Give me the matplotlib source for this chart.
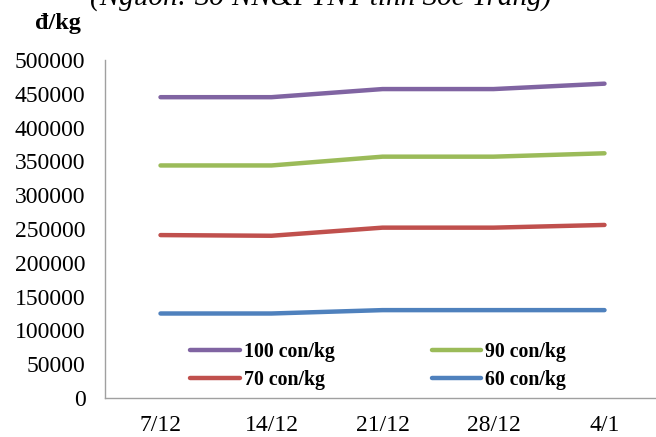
import matplotlib
matplotlib.use('Agg')
from matplotlib import pyplot as plt

# data
dates = ['7/12', '14/12', '21/12', '28/12', '4/1']
price_100 = [445000, 445000, 457000, 457000, 465000]
price_90 = [344000, 344000, 357000, 357000, 362000]
price_70 = [241000, 240000, 252000, 252000, 256000]
price_60 = [125000, 125000, 130000, 130000, 130000]

SERIES = [
    ('100 con/kg', price_100, '#8064A2'),
    ('70 con/kg', price_70, '#C0504D'),
    ('90 con/kg', price_90, '#9BBB59'),
    ('60 con/kg', price_60, '#4F81BD'),
]

plt.rcParams['font.family'] = ['Liberation Serif', 'DejaVu Serif']

fig = plt.figure(figsize=(6.56, 4.37), dpi=100)
# the category axis runs past the right edge of the picture, as in the reference
axes = fig.add_axes([105 / 656, 39 / 437, 555 / 656, 338 / 437])

x = range(len(dates))
for label, values, color in SERIES:
    axes.plot(x, values, color=color, linewidth=3.2, label=label, solid_capstyle='round')

axes.set_xlim(-0.5, len(dates) - 0.5)
axes.set_ylim(0, 500000)
axes.set_yticks(range(0, 500001, 50000))
axes.set_xticks(list(x), dates)
axes.tick_params(axis='both', length=0, labelsize=17)
axes.tick_params(axis='x', pad=12)
axes.tick_params(axis='y', pad=14)

for side in ('top', 'right'):
    axes.spines[side].set_visible(False)
for side in ('left', 'bottom'):
    axes.spines[side].set_color('#A0A0A0')
    axes.spines[side].set_linewidth(1.0)

axes.legend(ncol=2, frameon=False, loc='upper left', bbox_to_anchor=(190 / 656, (437 - 342) / 437),
            bbox_transform=fig.transFigure, borderpad=0, borderaxespad=0, handlelength=2.5,
            handletextpad=0.2, columnspacing=4.9, labelspacing=0.42,
            prop={'weight': 'bold', 'size': 14.3})

fig.text(35 / 656, (437 - 24) / 437, 'đ/kg', fontsize=17.5, fontweight='bold', va='center')
fig.text(321 / 656, (437 - 5) / 437, '(Nguồn: Sở NN&PTNT tỉnh Sóc Trăng)', fontsize=21,
         fontstyle='italic', ha='center', va='baseline')

fig.savefig('out.png', dpi=100)
